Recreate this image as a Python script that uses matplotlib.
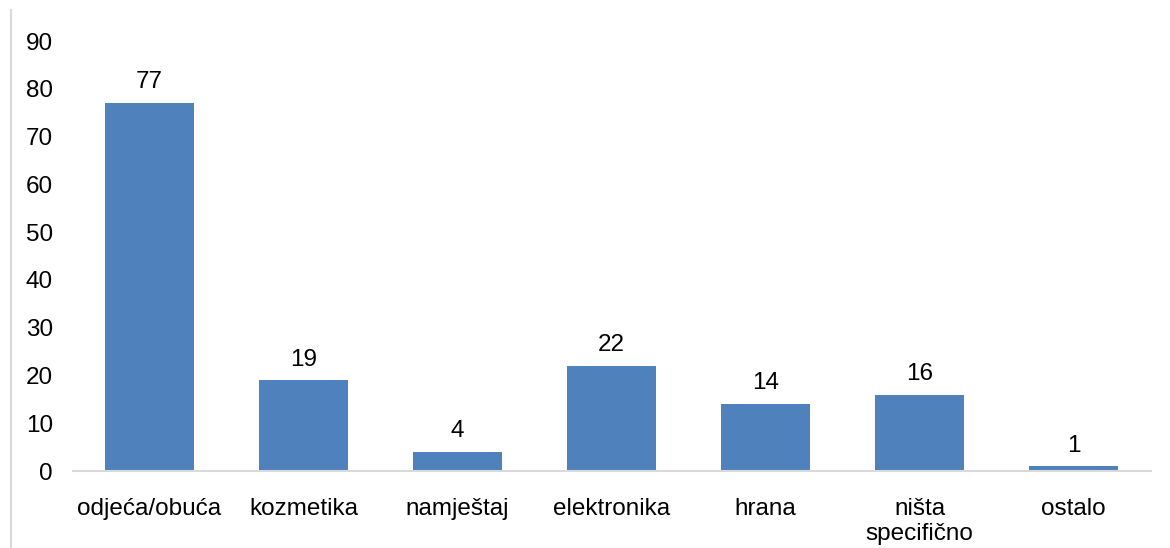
import matplotlib
matplotlib.use("Agg")
import matplotlib.pyplot as plt
from matplotlib.lines import Line2D

categories = ["odjeća/obuća", "kozmetika", "namještaj", "elektronika", "hrana", "ništa\nspecifično", "ostalo"]
values = [77, 19, 4, 22, 14, 16, 1]
yticks = [0, 10, 20, 30, 40, 50, 60, 70, 80, 90]

plt.rcParams['font.family'] = ['Liberation Sans', 'DejaVu Sans']

fig = plt.figure(figsize=(11.70, 5.48), dpi=100)
ax = fig.add_axes([72.5/1170, 77/548, (1150.5-72.5)/1170, 430/548])

x = range(len(categories))
bars = ax.bar(x, values, width=0.578, color="#4F81BD", zorder=2)
for xi, v in zip(x, values):
    ax.annotate(str(v), (xi, v), xytext=(0, 7), textcoords="offset points",
                ha="center", va="bottom", fontsize=17.5, color="#000000")

ax.set_xlim(-0.5, len(categories) - 0.5)
ax.set_ylim(0, 90)
ax.set_yticks(yticks)
ax.set_yticklabels([str(t) for t in yticks])
ax.set_xticks(list(x))
ax.set_xticklabels(categories, linespacing=1.15)
ax.tick_params(axis="y", length=0, pad=14, labelsize=17.5, labelcolor="#000000")
ax.tick_params(axis="x", length=0, pad=19.5, labelsize=17.5, labelcolor="#000000")
for s in ["top", "right", "left"]:
    ax.spines[s].set_visible(False)
ax.spines["bottom"].set_color("#D9D9D9")
ax.spines["bottom"].set_linewidth(1.5)

fig.add_artist(Line2D([10.5/1170, 10.5/1170], [0, 1 - 10/548], transform=fig.transFigure,
                      color="#D9D9D9", linewidth=1.5))

fig.savefig("out.png", dpi=100)
